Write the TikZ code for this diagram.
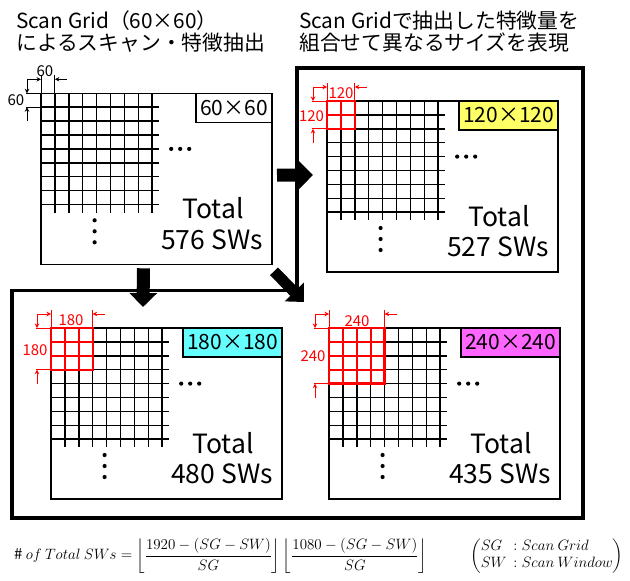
\RequirePackage{fix-cm}
\documentclass[tikz,border=0pt]{standalone}
\usepackage{amsmath}
\usepackage{fontspec}
\setmainfont{Noto Sans CJK JP}
\usetikzlibrary{arrows.meta,calc}
\definecolor{boxyellow}{HTML}{FFFF66}
\definecolor{boxcyan}{HTML}{66FFFF}
\definecolor{boxmagenta}{HTML}{FF66FF}
\def\s{13.9}
\tikzset{
  frame/.style={draw, line width=1.2pt, fill=white, anchor=north west, minimum width=231pt, minimum height=171pt, inner sep=0pt, outer sep=0pt},
  gridline/.style={line width=1.5pt},
  redline/.style={red, line width=2.4pt, line cap=rect},
  labbox/.style={draw, line width=1.2pt, anchor=north east, minimum width=99pt, minimum height=29pt, inner sep=0pt, outer sep=0pt, font=\fontsize{21}{24}\selectfont},
  bigtext/.style={font=\fontsize{26.5}{30}\selectfont, inner sep=0pt},
  dimtext/.style={font=\fontsize{15}{17}\selectfont, inner sep=0pt},
  titletext/.style={font=\fontsize{20.8}{24}\selectfont, inner sep=0pt, anchor=base west},
  blockarrow/.style={line width=13pt, -{Triangle[length=14pt,width=27pt]}},
  diagarrow/.style={line width=11pt, -{Triangle[length=14pt,width=26pt]}},
  dimtip/.tip={Stealth[length=4.5pt,width=4.5pt]},
  mathtext/.style={anchor=west, inner sep=0pt, font=\fontsize{15}{17}\selectfont},
}
\newcommand\mypanel[6]{%
  \node[frame] (#1) at (#2,#3) {};
  \foreach \i in {0,...,8}{
    \draw[gridline] ({#2+\i*\s},#3) -- ++(0,{8*\s+8});
    \draw[gridline] (#2,{#3+\i*\s}) -- ++({8*\s+7},0);
  }
  \node[labbox, #5] (#1box) at (#1.north east) {#4};
  \foreach \dd in {-9,0,9} \fill ({#2+8*\s+28+\dd},{#3+4*\s}) circle[radius=2.1pt];
  \foreach \dd in {127,138,149} \fill ({#2+4*\s-2},{#3+\dd}) circle[radius=2.1pt];
  \node[bigtext] (#1tot) at ($(#1.north east)+(-59,115)$) {Total};
  \node[bigtext] (#1sw) at ($(#1.north east)+(-60,146)$) {#6 SWs};
}
\newcommand\redgrid[3]{%
  \foreach \i in {0,...,#3}{
    \draw[redline] ({#1+\i*\s},#2) -- ++(0,{#3*\s});
    \draw[redline] (#1,{#2+\i*\s}) -- ++({#3*\s},0);
  }
}
\newcommand\mydims[4]{%
  \begin{scope}[#4, line width=1pt]
    \draw ({#1-15},#2) -- (#1,#2) ({#1-15},{#2+#3}) -- (#1,{#2+#3});
    \draw (#1,{#2-18}) -- (#1,#2) ({#1+#3},{#2-18}) -- ({#1+#3},#2);
    \draw[dimtip-dimtip] (#1,{#2-14}) -| ({#1-14},#2);
    \draw[-dimtip] ({#1+#3+12},{#2-14}) -- ({#1+#3},{#2-14});
    \draw[-dimtip] ({#1-14},{#2+#3+14}) -- ({#1-14},{#2+#3});
  \end{scope}
}
\begin{document}
\begin{tikzpicture}[x=1pt,y=-1pt]
\fill[white] (0,0) rectangle (630,581);
\useasboundingbox (0,0) rectangle (630,581);

% titles
\node[titletext] (t1) at (16,28.5) {Scan Grid（60×60）};
\node[titletext] (t2) at (16,50.5) {によるスキャン・特徴抽出};
\node[titletext] (t3) at (299,28.5) {Scan Gridで抽出した特徴量を};
\node[titletext] (t4) at (299,50.5) {組合せて異なるサイズを表現};

% outer frame
\draw[line width=3.5pt, line join=miter] (297,68) -- (583,68) -- (583,518) -- (12,518) -- (12,290.5) -- (297,290.5) -- cycle;

% panel 1
\mypanel{p1}{41}{93.3}{60×60}{fill=white,minimum width=76pt}{576}
\mydims{41}{93.3}{\s}{black}
\node[dimtext] (p1lt) at (45,71) {60};
\node[dimtext] (p1ll) at (16,100) {60};

% panel 2
\mypanel{p2}{327}{101}{120×120}{fill=boxyellow}{527}
\redgrid{327}{101}{2}
\mydims{327}{101}{2*\s}{red}
\node[dimtext, red] (p2lt) at (341,93) {120};
\node[dimtext, red] (p2ll) at (311.5,116) {120};

% panel 3
\mypanel{p3}{51}{328}{180×180}{fill=boxcyan}{480}
\redgrid{51}{328}{3}
\mydims{51}{328}{3*\s}{red}
\node[dimtext, red] (p3lt) at (71,320) {180};
\node[dimtext, red] (p3ll) at (35,350) {180};

% panel 4
\mypanel{p4}{329}{328}{240×240}{fill=boxmagenta}{435}
\redgrid{329}{328}{4}
\mydims{329}{328}{4*\s}{red}
\node[dimtext, red] (p4lt) at (357,321) {240};
\node[dimtext, red] (p4ll) at (313,356) {240};

% block arrows
\draw[blockarrow] ($(p1.east)+(5,-3.6)$) -- ($(p2.west)+(-14,-11.5)$);
\draw[blockarrow] ($(p1.south)+(-13,4)$) -- ($(p3.north)+(-23.5,-21)$);
\draw[diagarrow] ($(p1.south east)+(2,7)$) -- ($(p4.north west)+(-25,-26)$);

% formula
\node[mathtext] (formula) at (14,556)
  {$\#\ of\ Total\ SWs=\left\lfloor\dfrac{1920-(SG-SW)}{SG}\right\rfloor\left\lfloor\dfrac{1080-(SG-SW)}{SG}\right\rfloor$};
\node[mathtext] (legend) at (470,556)
  {$\left(\begin{array}{@{}l@{\ \ }l@{}} SG & :Scan\ Grid\\ SW & :Scan\ Window\end{array}\right)$};
\end{tikzpicture}
\end{document}
